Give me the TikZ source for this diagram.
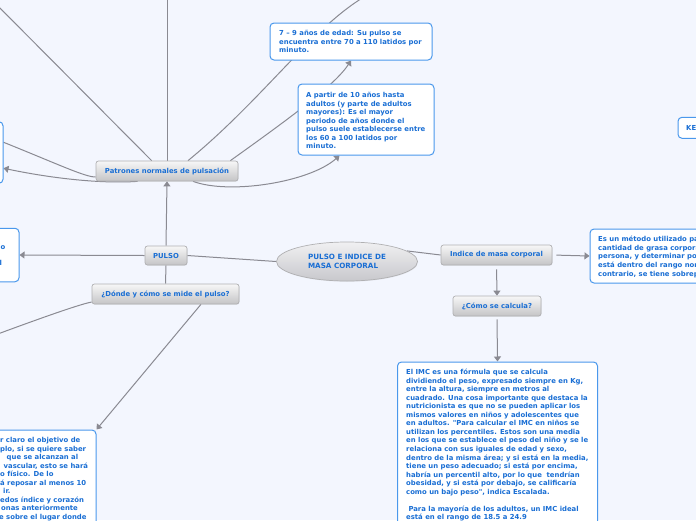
\documentclass[tikz,border=0pt]{standalone}
\usepackage{fontspec}
\newfontfamily\mmfont{DejaVu Sans}[Ligatures=TeXOff]
\usetikzlibrary{arrows.meta,shapes.geometric,shadows,calc}
\pgfdeclarelayer{back}
\pgfdeclarelayer{links}
\pgfsetlayers{back,links,main}
\definecolor{bgc}{RGB}{243,246,254}
\definecolor{txtblue}{RGB}{25,110,212}
\definecolor{boxblue}{RGB}{74,152,236}
\definecolor{linegray}{RGB}{138,138,146}
\definecolor{grayT}{RGB}{247,247,247}
\definecolor{grayB}{RGB}{196,196,198}
\definecolor{nodeborder}{RGB}{176,176,178}
\definecolor{ellT}{RGB}{240,240,242}
\definecolor{ellB}{RGB}{200,200,204}
\tikzset{
  mmtext/.style={font=\mmfont\bfseries\fontsize{6.87}{8.55}\selectfont, text=txtblue},
  topic/.style={mmtext, rectangle, rounded corners=2.5pt, draw=nodeborder, line width=0.7pt,
    top color=grayT, bottom color=grayB, inner sep=0pt, minimum height=20pt,
    drop shadow={shadow xshift=0.5pt, shadow yshift=-0.7pt, opacity=0.18}},
  note/.style={rectangle, rounded corners=4pt, draw=boxblue, line width=1pt, fill=white, inner sep=0pt},
  notetext/.style={mmtext, anchor=north west, inner sep=0pt, align=left},
  frag/.style={mmtext, anchor=base west, inner sep=0pt},
  conn/.style={draw=linegray, line width=1pt},
  arr/.style={conn, -{Triangle[length=5pt,width=7pt]}},
}
\begin{document}
\begin{tikzpicture}[x=1pt,y=-1pt]
\useasboundingbox (0,0) rectangle (696,520);
\clip (0,0) rectangle (696,520);
\begin{pgfonlayer}{back}
\fill[bgc] (0,0) rectangle (696,520);
\end{pgfonlayer}

% central topic
\node[ellipse, draw=nodeborder, line width=0.7pt, top color=ellT, bottom color=ellB,
  minimum width=141pt, minimum height=39pt, inner sep=0pt, align=left,
  font=\mmfont\bfseries\fontsize{7.2}{9.7}\selectfont, text=txtblue,
  drop shadow={shadow xshift=0.5pt, shadow yshift=-0.7pt, opacity=0.15}] (ell) at (347,261.5)
  {PULSO E INDICE DE\\MASA CORPORAL};

% gray topics
\node[topic, minimum width=42pt, minimum height=19pt] (pulso) at (166,255.5) {PULSO};
\node[topic, minimum width=142pt] (patrones) at (167,171) {Patrones normales de pulsación};
\node[topic, minimum width=147pt] (donde) at (165.5,294) {¿Dónde y cómo se mide el pulso?};
\node[topic, minimum width=111pt] (indice) at (496.5,255) {Indice de masa corporal};
\node[topic, minimum width=88pt] (como) at (497,306) {¿Cómo se calcula?};

% note boxes
\node[note, minimum width=162pt, minimum height=37pt] (n79) at (351,41.5) {};
\node[note, minimum width=136pt, minimum height=71pt] (n10) at (366,119.5) {};
\node[note, minimum width=150pt, minimum height=54pt] (nright) at (665,256) {};
\node[note, minimum width=52pt, minimum height=21pt] (nke) at (704,127.8) {};
\node[note, minimum width=200pt, minimum height=200pt] (nbottom) at (497.5,462) {};
\node[note, minimum width=63pt, minimum height=61.5pt] (nlefttop) at (-28.5,152.5) {};
\node[note, minimum width=119pt, minimum height=53.5pt] (nleftmid) at (-40.5,255) {};
\node[note, minimum width=216pt, minimum height=130pt] (nbotleft) at (-12,495) {};

% note texts
\node[notetext] (t79) at (279,30.1) {\rule{0pt}{5.5pt}7 – 9 años de edad: Su pulso se\\encuentra entre 70 a 110 latidos por\\minuto.};
\node[notetext] (t10) at (306,91.8) {\rule{0pt}{5.5pt}A partir de 10 años hasta\\adultos (y parte de adultos\\mayores): Es el mayor\\periodo de años donde el\\pulso suele establecerse entre\\los 60 a 100 latidos por\\minuto.};
\node[notetext] (tright) at (598,236.1) {\rule{0pt}{5.5pt}Es un método utilizado para medir la\\cantidad de grasa corporal de una\\persona, y determinar por lo tanto si\\está dentro del rango normal o si, por el\\contrario, se tiene sobrepeso o delgadez.};
\node[notetext] (tke) at (686,125.1) {\rule{0pt}{5.5pt}KE};
\node[notetext] (tbottom) at (406,368.8) {\rule{0pt}{5.5pt}El IMC es una fórmula que se calcula\\dividiendo el peso, expresado siempre en Kg,\\entre la altura, siempre en metros al\\cuadrado. Una cosa importante que destaca la\\nutricionista es que no se pueden aplicar los\\mismos valores en niños y adolescentes que\\en adultos. "Para calcular el IMC en niños se\\utilizan los percentiles. Estos son una media\\en los que se establece el peso del niño y se le\\relaciona con sus iguales de edad y sexo,\\dentro de la misma área; y si está en la media,\\tiene un peso adecuado; si está por encima,\\habría un percentil alto, por lo que\ \ tendrían\\obesidad, y si está por debajo, se calificaría\\como un bajo peso", indica Escalada.\\[8.55pt]\hspace{2.3pt}Para la mayoría de los adultos, un IMC ideal\\está en el rango de 18.5 a 24.9};
\node[notetext] (tbotleft) at (0,436.8) {\rule{0pt}{5.5pt}r claro el objetivo de\\plo, si se quiere saber\\\hspace{6.5pt}que se alcanzan al\\\hspace{3.5pt}vascular, esto se hará\\o físico. De lo\\á reposar al menos 10\\\hspace{3pt}ir.\\edos índice y corazón\\\hspace{1pt}onas anteriormente\\\hspace{-1pt}e sobre el lugar donde};
\node[frag] (lm1) at (0.5,249) {o};
\node[frag] (lm2) at (-0.5,265.5) {l};

% free ends
\coordinate (offTL) at (-10,-2);
\coordinate (offT) at (167,-2);
\coordinate (offTR) at (364,-3);
\coordinate (offL) at (-5,335);

\begin{pgfonlayer}{links}
\draw[conn] (pulso.east) -- (ell.west);
\draw[conn] (ell.10) -- (indice.west);
\draw[arr] (pulso.west) -- (nleftmid.east);
\draw[arr] (pulso.north) -- (patrones.south);
\draw[conn] (pulso.south) -- (donde.north);
\draw[arr, shorten <=4pt] (indice.south) -- (como.north);
\draw[arr, shorten <=3pt] (como.south) -- (nbottom.north);
\draw[arr, shorten <=4pt] (indice.east) -- (nright.west);
\draw[arr] ($(donde.south west)!0.74!(donde.south east)$) -- (nbotleft.north east);
\draw[conn] ($(donde.west)+(0,8)$) .. controls (82,304) and (60,311) .. (offL);
% from Patrones
\draw[conn] ($(patrones.north west)+(56,0)$) -- (offTL);
\draw[conn] (patrones.north) -- (offT);
\draw[conn] ($(patrones.north)+(21,0)$) .. controls (262,100) and (312,28) .. (offTR);
\draw[arr] ($(patrones.north east)+(-8,0)$) .. controls (290,118) and (335,85) .. (n79.south);
\draw[arr] ($(patrones.south)+(26,0)$) .. controls (230,195) and (310,182) .. ($(n10.south west)+(42,0)$);
\draw[conn] ($(patrones.west)+(0,6)$) .. controls (85,177) and (60,165) .. ($(nlefttop.north east)+(0,21)$);
\draw[arr] ($(patrones.south west)+(42,0)$) .. controls (100,184) and (50,178) .. ($(nlefttop.north east)+(0,47)$);
\end{pgfonlayer}
\end{tikzpicture}
\end{document}
